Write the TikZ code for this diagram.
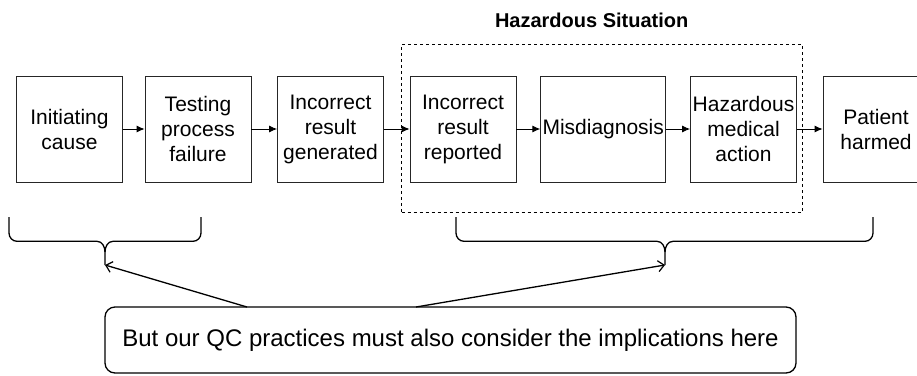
\documentclass[tikz,border=0pt]{standalone}
\usepackage{fontspec}
\setmainfont{Liberation Sans}
\usetikzlibrary{arrows.meta}
\begin{document}
\begin{tikzpicture}[x=1pt,y=-1pt,
  stepbox/.style={draw=black!85,line width=0.8pt,minimum width=106pt,minimum height=106pt,
    inner sep=0pt,align=center,font=\fontsize{21}{25}\selectfont},
  flow/.style={draw=black,line width=0.9pt,-{Latex[length=8pt,width=7pt]}},
  brace/.style={draw=black,line width=1.3pt},
  point/.style={draw=black,line width=1.3pt,-{Straight Barb[length=6pt,width=11pt,line width=1.2pt]}}]
\useasboundingbox (0,0) rectangle (917,375);
\begin{scope}
\clip (0,0) rectangle (917,375);
% dashed region
\node[draw=black,dashed,line width=0.6pt,minimum width=400.6pt,minimum height=168pt,inner sep=0pt] (haz) at (602,128.3) {};
\node[font=\bfseries\fontsize{20}{24}\selectfont] (hazt) at (591.7,20) {Hazardous Situation};
% boxes
\node[stepbox] (b1) at (69.5,129) {Initiating\\cause};
\node[stepbox] (b2) at (198,129) {Testing\\process\\failure};
\node[stepbox] (b3) at (330.5,129) {Incorrect\\result\\generated};
\node[stepbox] (b4) at (463,129) {Incorrect\\result\\reported};
\node[stepbox,minimum width=125pt] (b5) at (603.2,129) {Misdiagnosis};
\node[stepbox] (b6) at (743.5,129) {Hazardous\\medical\\action};
\node[stepbox] (b7) at (876,129) {Patient\\harmed};
\draw[flow] (b1) -- (b2);
\draw[flow] (b2) -- (b3);
\draw[flow] (b3) -- (b4);
\draw[flow] (b4) -- (b5);
\draw[flow] (b5) -- (b6);
\draw[flow] (b6) -- (b7);
% braces
\coordinate (t1) at (105,265);
\coordinate (t2) at (665,265);
\draw[brace] (9,217) -- (9,233) to[out=-90,in=180] (17,241.3) -- (97,241.3)
  to[out=0,in=90] (105,252) -- (t1);
\draw[brace] (201,217) -- (201,233) to[out=-90,in=0] (193,241.3) -- (113,241.3)
  to[out=180,in=90] (105,252);
\draw[brace] (456,217) -- (456,233) to[out=-90,in=180] (464,241.3) -- (657,241.3)
  to[out=0,in=90] (665,252) -- (t2);
\draw[brace] (873,217) -- (873,233) to[out=-90,in=0] (865,241.3) -- (673,241.3)
  to[out=180,in=90] (665,252);
% bottom note
\node[draw=black,line width=1.3pt,rounded corners=10pt,minimum width=691pt,minimum height=66pt,
  inner sep=0pt,font=\fontsize{24}{28}\selectfont] (qc) at (450.5,340) {But our QC practices must also consider the implications here};
\coordinate (s1) at (247,307);
\coordinate (s2) at (416,307);
\draw[point] (s1) -- (t1);
\draw[point] (s2) -- (t2);
\end{scope}
\end{tikzpicture}
\end{document}
